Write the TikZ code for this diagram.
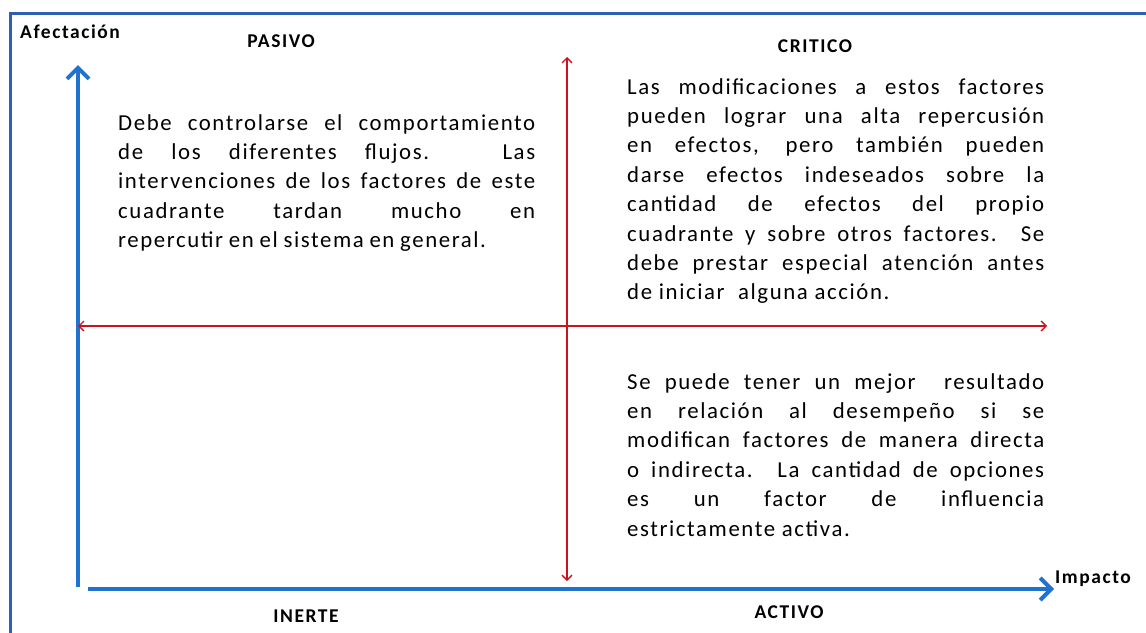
\documentclass[tikz,border=0pt]{standalone}
\usepackage{fontspec}
\setmainfont{Carlito}
\newfontfamily\bodyfont[LetterSpace=7]{Carlito}
\newfontfamily\labfont[LetterSpace=8]{Carlito}
\usetikzlibrary{arrows.meta}
\definecolor{frameblue}{RGB}{46,96,178}
\definecolor{axisblue}{RGB}{33,113,207}
\definecolor{quadred}{RGB}{200,20,30}
\tikzset{
  axis/.style={draw=axisblue, line width=4pt, -{Straight Barb[length=11pt,width=22pt,line width=4pt]}},
  quad/.style={draw=quadred, line width=1.3pt, {Straight Barb[length=5pt,width=10pt]}-{Straight Barb[length=5pt,width=10pt]}},
  lab/.style={font=\labfont\fontsize{19.5}{22}\selectfont\bfseries, inner sep=0pt},
  para/.style={font=\bodyfont\fontsize{22.8}{29.4}\selectfont, inner sep=0pt, text width=417pt, align=justify, anchor=north west}
}
\begin{document}
\begin{tikzpicture}[x=1pt,y=-1pt]
\useasboundingbox (0,0) rectangle (1146,632);
\fill[white] (0,0) rectangle (1146,632);
% frame
\draw[frameblue, line width=3pt] (10.5,640) -- (10.5,13.5) -- (1160,13.5);
% named points
\coordinate (yb) at (78,587);
\coordinate (yt) at (78,65);
\coordinate (xl) at (88,589);
\coordinate (xr) at (1054,589);
\coordinate (vt) at (567,57);
\coordinate (vb) at (567,581);
\coordinate (hl) at (78,326);
\coordinate (hr) at (1047,326);
% axes
\draw[axis] (yb) -- (yt);
\draw[axis] (xl) -- (xr);
% quadrant lines
\draw[quad] (vb) -- (vt);
\draw[quad] (hl) -- (hr);
% labels
\node[lab, anchor=west] (afe) at (20,32) {Afectación};
\node[lab] (pas) at (281,41) {PASIVO};
\node[lab] (cri) at (815,46) {CRITICO};
\node[lab] (ine) at (306,616) {INERTE};
\node[lab] (act) at (789,612) {ACTIVO};
\node[lab, anchor=west] (imp) at (1055,579) {Impacto};
% paragraphs
\node[para] (pasivo) at (118,114) {Debe controlarse el comportamiento\linebreak de los diferentes flujos. Las\linebreak intervenciones de los factores de este\linebreak cuadrante tardan mucho en\linebreak repercutir\kern-1pt\ en\kern-1pt\ el\kern-1pt\ sistema\kern-1pt\ en\kern-1pt\ general.};
\node[para] (critico) at (627,78) {Las modificaciones a estos factores\linebreak pueden lograr una alta repercusión\linebreak en efectos, pero también pueden\linebreak darse efectos indeseados sobre la\linebreak cantidad de efectos del propio\linebreak cuadrante y sobre otros factores. Se\linebreak debe prestar especial atención antes\linebreak de iniciar\ \ alguna acción.};
\node[para] (activo) at (627,373) {Se puede tener un mejor\ \ resultado\linebreak en relación al desempeño si se\linebreak modifican factores de manera directa\linebreak o indirecta. La cantidad de opciones\linebreak es un factor de influencia\linebreak estrictamente activa.};
\end{tikzpicture}
\end{document}
